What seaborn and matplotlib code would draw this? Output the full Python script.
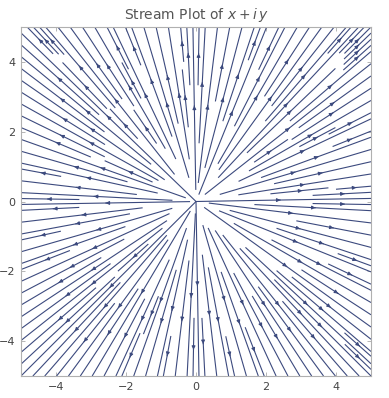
import numpy as np
import matplotlib
matplotlib.use("Agg")
import matplotlib.pyplot as plt
import seaborn as sns

# Field: f(z) = x + i y  -> vector (Re, Im)
x_range = [-5, 5]
y_range = [-5, 5]
grid_n = 101
x_ticks = [-4, -2, 0, 2, 4]
y_ticks = [-4, -2, 0, 2, 4]
title = "Stream Plot of $x + i\\,y$"

sns.set_theme(style="white")
plt.rcParams['font.family'] = ['DejaVu Sans']

xs = np.linspace(x_range[0], x_range[1], grid_n)
ys = np.linspace(y_range[0], y_range[1], grid_n)
X, Y = np.meshgrid(xs, ys)
U = X
V = Y

fig = plt.figure(figsize=(3.89, 3.98), dpi=100)
ax = fig.add_axes([21/389, 1 - 376/398, 350/389, 349/398])
color = "#3c4a7e"
kw = dict(density=2.0, color=color, linewidth=0.8, arrowsize=0.5, minlength=0.1)
try:
    ax.streamplot(X, Y, U, V, num_arrows=3, **kw)
except TypeError:
    ax.streamplot(X, Y, U, V, **kw)

ax.set_xlim(*x_range)
ax.set_ylim(*y_range)
ax.set_xticks(x_ticks)
ax.set_yticks(y_ticks)
ax.set_xticklabels(["\u22124", "\u22122", "0", "2", "4"])
ax.set_yticklabels(["\u22124", "\u22122", "0", "2", "4"])
ax.tick_params(direction="in", length=3, width=0.6, colors="#aaaaaa",
               labelcolor="#444444", labelsize=8, top=True, right=True,
               bottom=True, left=True, pad=4)
for s in ax.spines.values():
    s.set_color("#b0b0b0")
    s.set_linewidth(0.8)
ax.set_title(title, fontsize=10, color="#555555", pad=6)
fig.savefig("out.png", dpi=100)
